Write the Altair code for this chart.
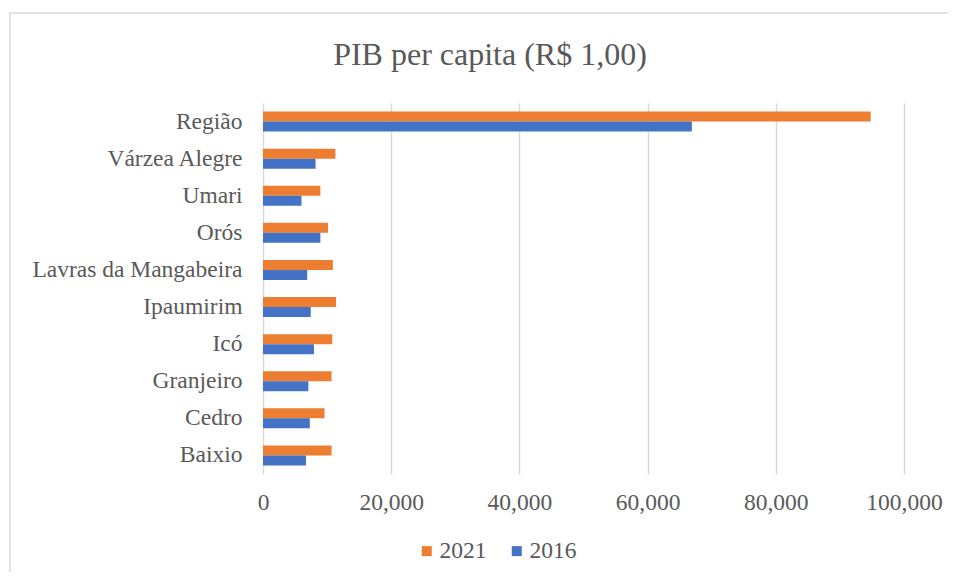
import altair as alt
import pandas as pd

categories = ["Região", "Várzea Alegre", "Umari", "Orós", "Lavras da Mangabeira",
              "Ipaumirim", "Icó", "Granjeiro", "Cedro", "Baixio"]
values_2021 = [94800, 11300, 8950, 10150, 10900, 11400, 10800, 10700, 9600, 10700]
values_2016 = [66900, 8200, 6000, 8950, 6900, 7450, 7950, 7080, 7300, 6700]
series = ["2021", "2016"]
colors = ["#ED7D31", "#4472C4"]
title_text = "PIB per capita (R$ 1,00)"

rows = []
for c, a, b in zip(categories, values_2021, values_2016):
    rows.append({"Município": c, "Ano": "2021", "PIB": a})
    rows.append({"Município": c, "Ano": "2016", "PIB": b})
df = pd.DataFrame(rows)

FONT = "Liberation Serif"
GRAY = "#595959"
FS = 23.5

W, H = 641, 371
PAD_L, PAD_T = 255, 95

bars = alt.Chart(df).mark_bar(size=10).encode(
    y=alt.Y("Município:N", sort=categories, title=None,
            scale=alt.Scale(paddingInner=0.46, paddingOuter=0.23),
            axis=alt.Axis(labelFont=FONT, labelFontSize=FS, labelColor=GRAY,
                          labelPadding=21, labelLimit=400,
                          ticks=False, domain=False, grid=False)),
    yOffset=alt.YOffset("Ano:N", sort=series),
    x=alt.X("PIB:Q", title=None,
            scale=alt.Scale(domain=[0, 100000]),
            axis=alt.Axis(values=[0, 20000, 40000, 60000, 80000, 100000], format=",d",
                          labelFont=FONT, labelFontSize=FS, labelColor=GRAY,
                          labelPadding=16, labelFlush=False, labelOverlap=False,
                          ticks=False, domain=False,
                          grid=True, gridColor="#d9d9d9", gridWidth=1.5)),
    color=alt.Color("Ano:N", sort=series,
                    scale=alt.Scale(domain=series, range=colors),
                    legend=alt.Legend(title=None, orient="none", direction="horizontal",
                                      legendX=152, legendY=436,
                                      symbolType="square", symbolSize=100,
                                      symbolStrokeWidth=0,
                                      labelFont=FONT, labelFontSize=FS, labelColor=GRAY,
                                      columnPadding=18, labelOffset=1)),
)

title_df = pd.DataFrame({"t": [title_text]})
title = alt.Chart(title_df).mark_text(
    font=FONT, fontSize=32, color=GRAY, align="center", baseline="middle"
).encode(text="t:N", x=alt.value(490 - 263), y=alt.value(55 - 103))

frame = alt.Chart(title_df).mark_rect(
    fill=None, stroke="#d9d9d9", strokeWidth=1.5
).encode(x=alt.value(10 - 263), x2=alt.value(720), y=alt.value(13 - 103), y2=alt.value(520))

chart = alt.layer(frame, bars, title).properties(
    width=W, height=H,
    autosize=alt.AutoSizeParams(type="none"),
    padding={"left": PAD_L, "top": PAD_T, "right": 44, "bottom": 98},
).configure_view(stroke=None)

chart.save("out.html", embed_options={"renderer": "svg", "actions": False})
